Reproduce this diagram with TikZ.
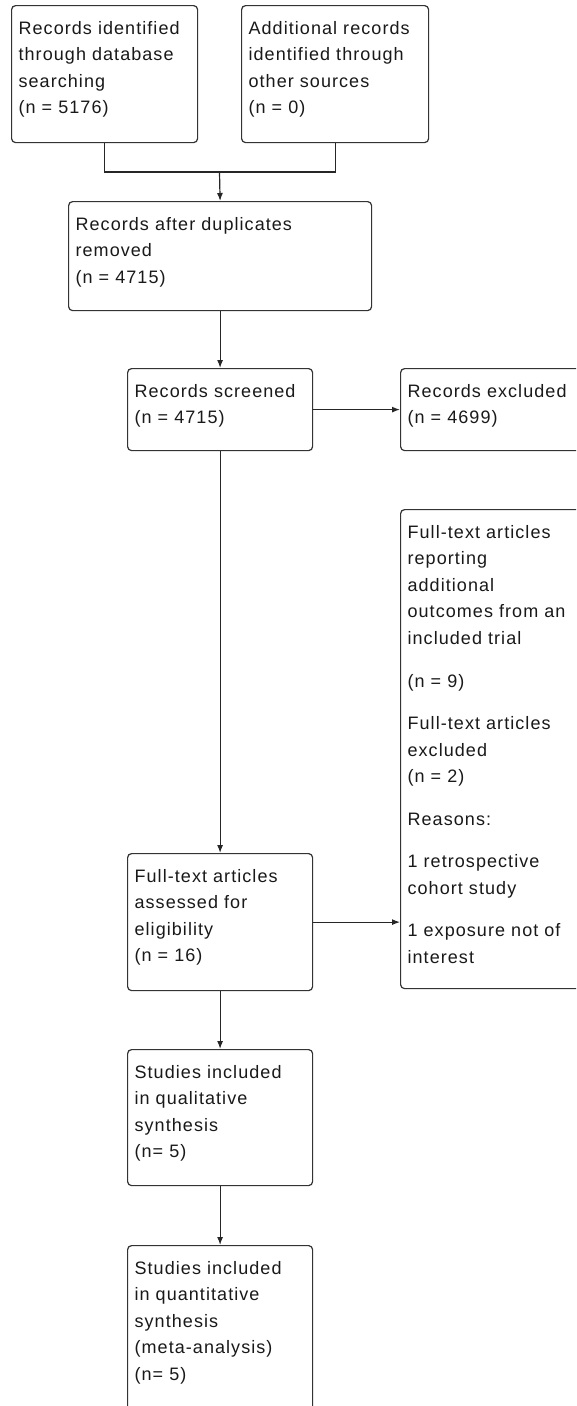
\documentclass[tikz,border=0pt]{standalone}
\usepackage{fontspec}
\setmainfont{Liberation Sans}[LetterSpace=5.9]
\usetikzlibrary{arrows.meta}
\newcommand{\bxtext}[3]{\begin{minipage}[t][#2][t]{#1}\fontsize{18pt}{26.6pt}\selectfont\raggedright\rule{0pt}{28.5pt}#3\end{minipage}}
\tikzset{
  box/.style={draw=black!80, line width=1.2pt, rounded corners=4pt, inner xsep=7pt, inner ysep=0pt, anchor=north west, text=black!90},
  conn/.style={draw=black!85, line width=1.2pt},
  arr/.style={conn, -{Latex[length=8pt,width=6pt]}}
}
\begin{document}
\begin{tikzpicture}[x=1pt,y=-1pt]
\clip (0,0) rectangle (576,1406);
\fill[white] (0,0) rectangle (576,1406);
\node[box] (b1) at (11,5) {\bxtext{172pt}{137pt}{Records identified\\through database\\searching\\(n = 5176)}};
\node[box] (b2) at (241,5) {\bxtext{173pt}{137pt}{Additional records\\identified through\\other sources\\(n = 0)}};
\node[box] (b3) at (68,201) {\bxtext{289pt}{109pt}{Records after duplicates\\removed\\(n = 4715)}};
\node[box] (b4) at (127,368) {\bxtext{171pt}{82pt}{Records screened\\(n = 4715)}};
\node[box] (b5) at (400,368) {\bxtext{186pt}{82pt}{Records excluded\\(n = 4699)}};
\node[box] (b6) at (400,509) {\bxtext{186pt}{479pt}{Full-text articles\\reporting\\additional\\outcomes from an\\included trial\\[15.9pt](n = 9)\\[15.9pt]Full-text articles\\excluded\\(n = 2)\\[15.9pt]Reasons:\\[15.9pt]1 retrospective\\cohort study\\[15.9pt]1 exposure not of\\interest}};
\node[box] (b7) at (127,853) {\bxtext{171pt}{137pt}{Full-text articles\\assessed for\\eligibility\\(n = 16)}};
\node[box] (b8) at (127,1049) {\bxtext{171pt}{136pt}{Studies included\\in qualitative\\synthesis\\(n= 5)}};
\node[box] (b9) at (127,1245) {\bxtext{171pt}{200pt}{Studies included\\in quantitative\\synthesis\\(meta-analysis)\\(n= 5)}};
\coordinate (m) at (219.5,172);
\draw[conn] (b1.south) |- (m) -| (b2.south);
\draw[arr] (m) -- (b3.north);
\draw[arr] (b3.south) -- (b4.north);
\draw[arr] (b4.east) -- (b5.west);
\draw[arr] (b4.south) -- (b7.north);
\draw[arr] (b7.east) -- (b7.east -| b6.west);
\draw[arr] (b7.south) -- (b8.north);
\draw[arr] (b8.south) -- (b9.north);
\end{tikzpicture}
\end{document}
